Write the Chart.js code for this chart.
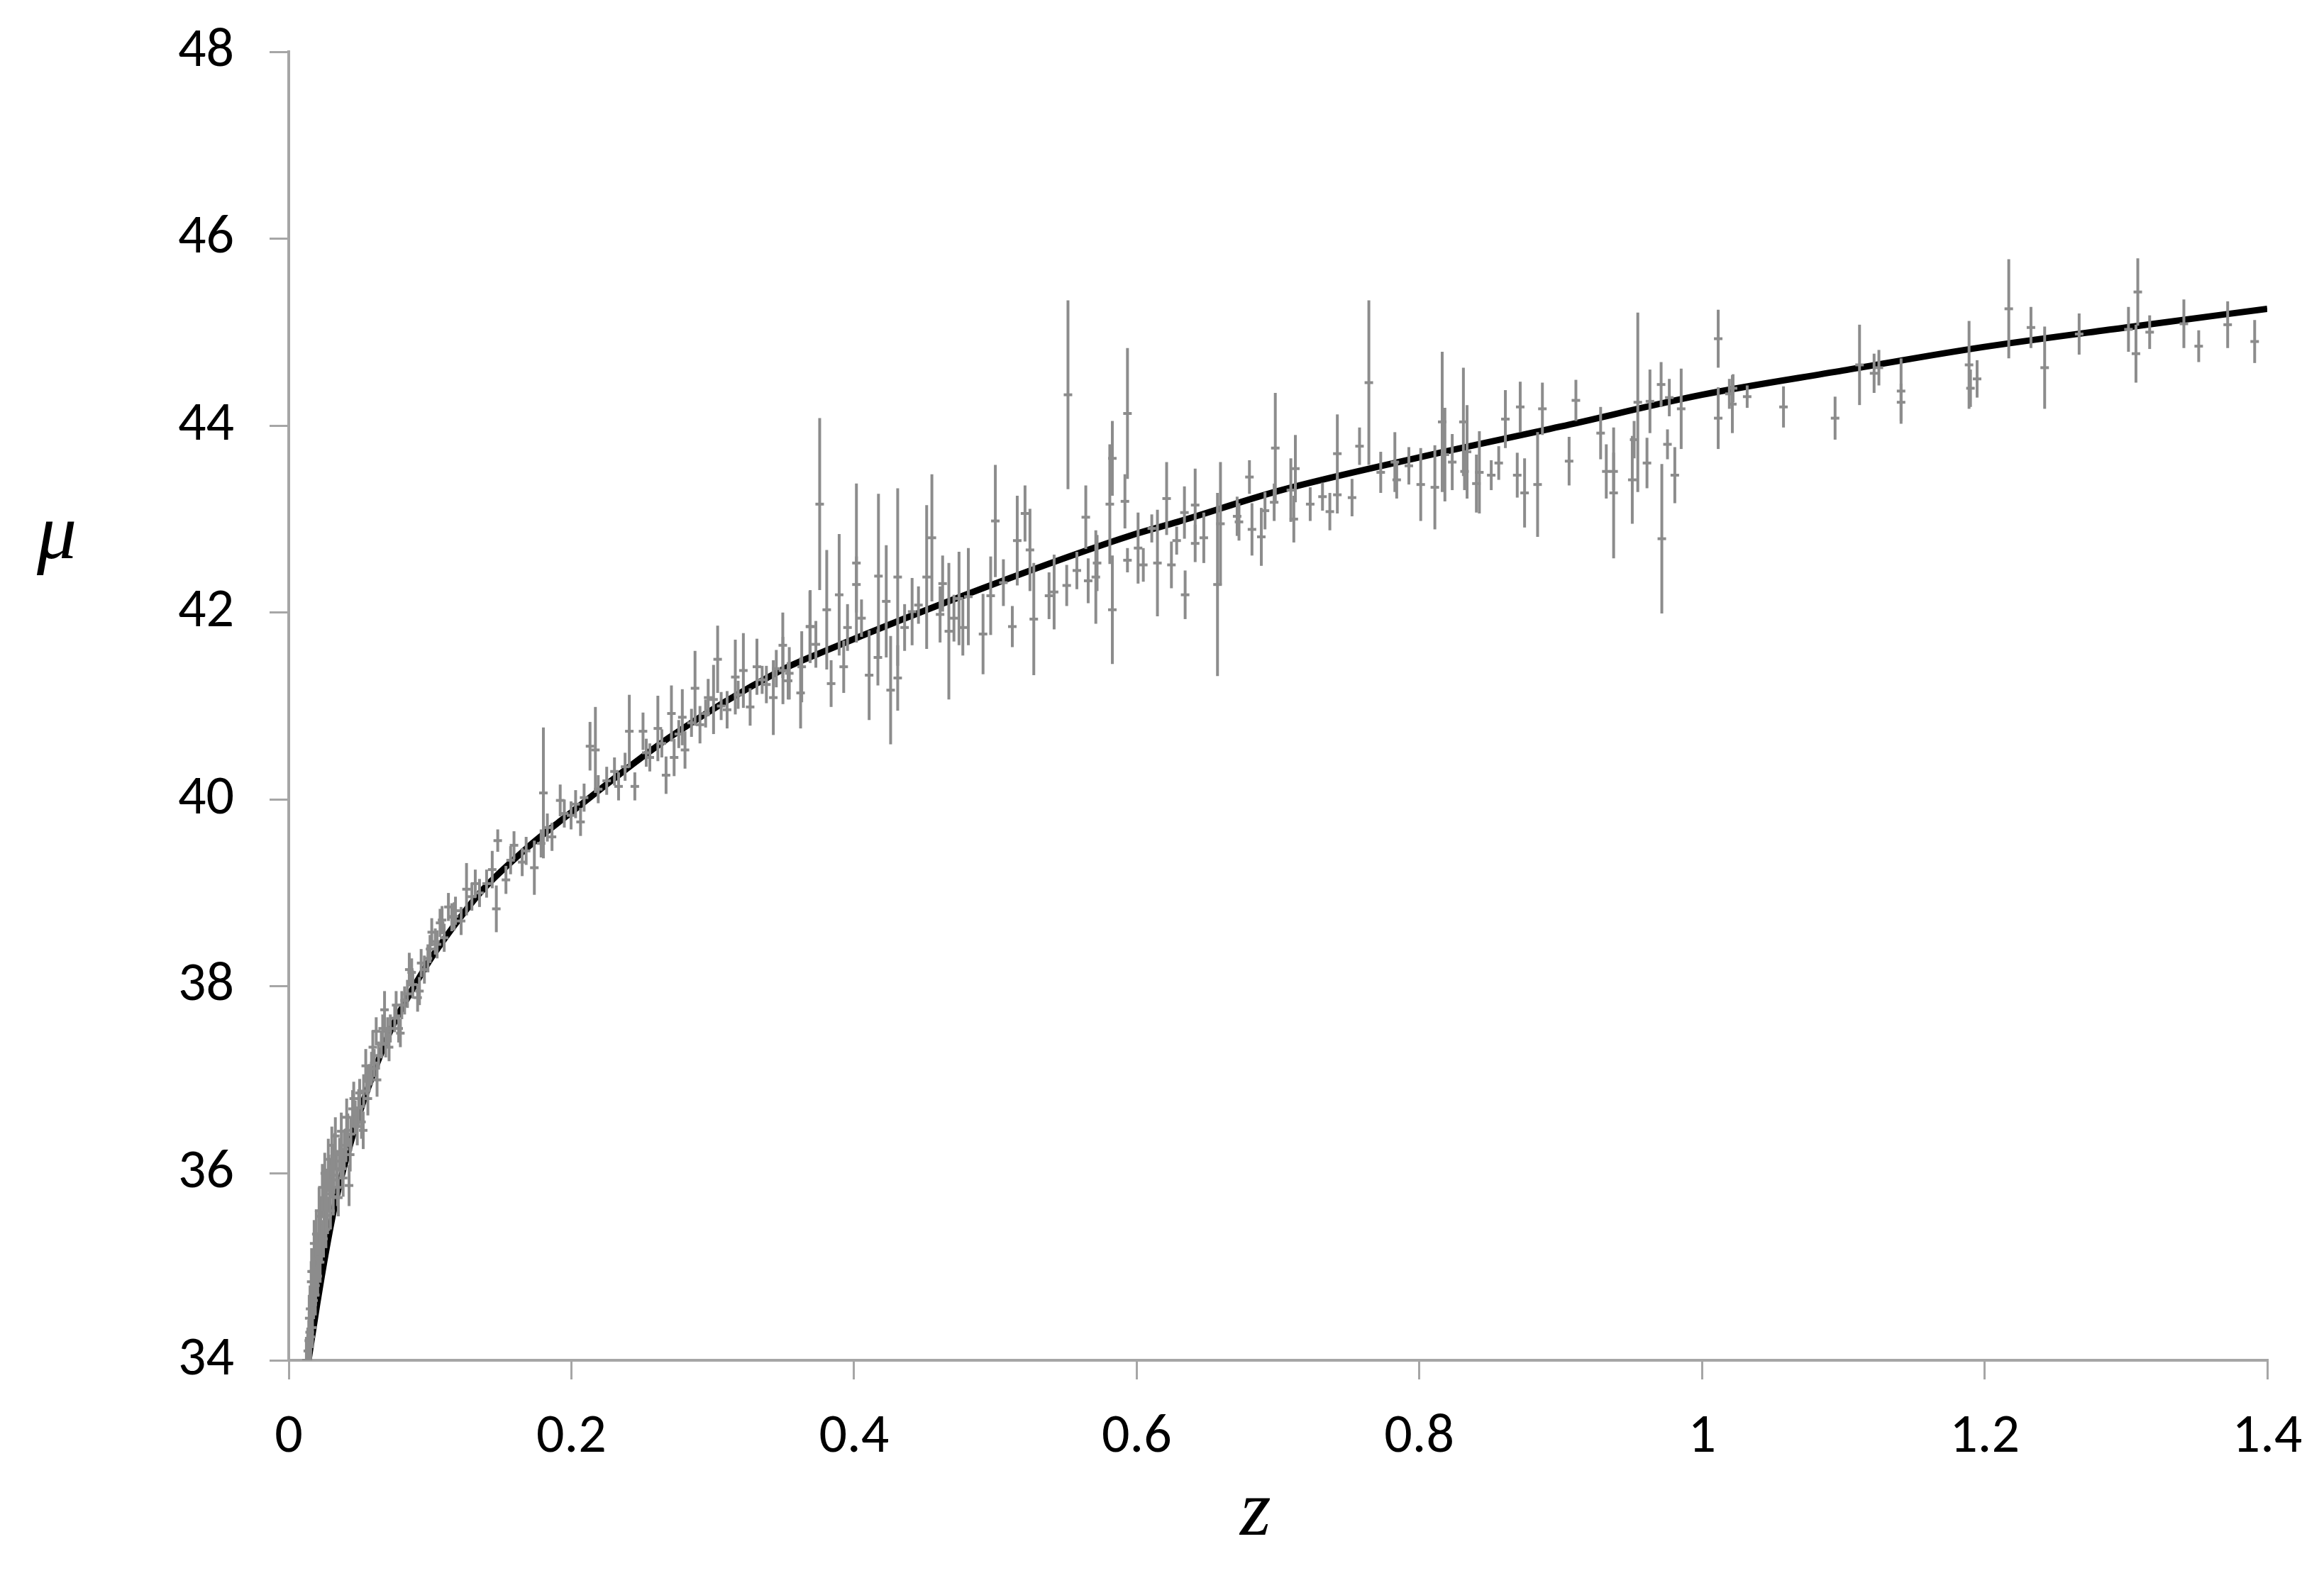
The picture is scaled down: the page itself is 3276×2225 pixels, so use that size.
<!DOCTYPE html>
<html>
<head>
<meta charset="utf-8">
<title>Hubble diagram</title>
<script src="https://cdn.jsdelivr.net/npm/chart.js@4.4.1/dist/chart.umd.min.js"></script>
<style>
  html, body { margin: 0; padding: 0; background: #fff; }
  #wrap { width: 3276px; height: 2225px; position: relative; }
</style>
</head>
<body>
<div id="wrap"><canvas id="hubble"></canvas></div>
<script>
//axis ranges and tick steps
const zTicks = [0, 0.2, 0.4, 0.6, 0.8, 1, 1.2, 1.4];
const muTicks = [34, 36, 38, 40, 42, 44, 46, 48];

//fitted model curve
const curveZ  = [0.0140, 0.0201, 0.0268, 0.0335, 0.0393, 0.0502, 0.0619, 0.0736, 0.0887, 0.102, 0.1205, 0.137, 0.170, 0.193, 0.269, 0.348, 0.378, 0.491, 0.599, 0.629, 0.70, 0.80, 0.90, 1.00, 1.10, 1.19, 1.30, 1.40];
const curveMu = [34.0, 34.6, 35.2, 35.72, 36.08, 36.65, 37.15, 37.58, 38.0, 38.33, 38.72, 39.03, 39.5, 39.78, 40.66, 41.38, 41.58, 42.26, 42.84, 42.97, 43.30, 43.66, 43.99, 44.33, 44.59, 44.82, 45.05, 45.25];

//supernovae: redshift, distance modulus, error
const snZ = [
  0.0125, 0.0142, 0.0151, 0.0159, 0.0176, 0.0184, 0.0201, 0.0217, 0.0226, 0.0243, 0.0259, 0.0268, 0.0284, 0.0301, 0.0310, 0.0326, 0.0351, 0.0368, 0.0393, 0.0427, 0.0418, 0.0452, 0.0485, 0.0502, 0.0527, 0.0552, 0.0586, 0.0619, 0.0636, 0.0678, 0.0686, 0.0719, 0.0778, 0.0820, 0.0853, 0.0878, 0.0912, 0.0937, 0.1012, 0.1071, 0.1154, 0.1180,
  0.0135, 0.0148, 0.0165, 0.0170, 0.0190, 0.0210, 0.0232, 0.0250, 0.0275, 0.0290, 0.0320, 0.0340, 0.0360, 0.0380, 0.0405, 0.0440, 0.0470, 0.0530, 0.0570, 0.0605, 0.0655, 0.0700, 0.0750, 0.0800, 0.0840, 0.0960, 0.0985, 0.1050, 0.1100,
  0.0145, 0.0155, 0.0162, 0.0168, 0.0180, 0.0188, 0.0195, 0.0205, 0.0215, 0.0222, 0.0238, 0.0246, 0.0255, 0.0263, 0.0280, 0.0295, 0.0305, 0.0315, 0.0330, 0.0345, 0.0372, 0.0385, 0.0410, 0.0435, 0.0460, 0.0495, 0.0515, 0.0545, 0.0560, 0.0595, 0.0625, 0.0665, 0.0710, 0.0760, 0.0790, 0.0870, 0.0925, 0.1000, 0.1130, 0.1220, 0.1320,
  0.1037, 0.1085, 0.1171, 0.1258, 0.1296, 0.1440, 0.1469, 0.1479, 0.1537, 0.1594, 0.1652, 0.1738, 0.1786, 0.1802, 0.1863, 0.1921, 0.1998, 0.2065, 0.2132, 0.2170, 0.2190, 0.2305, 0.2334, 0.2410, 0.2449, 0.2507, 0.2555, 0.2612, 0.2670, 0.2708, 0.2727, 0.2785, 0.2804, 0.2875, 0.2910, 0.2968, 0.3006, 0.3035, 0.3102, 0.3160, 0.3217, 0.3265, 0.3313, 0.3380, 0.3429, 0.3496, 0.3534, 0.3630, 0.3688,
  0.135, 0.140, 0.157, 0.168, 0.183, 0.195, 0.203, 0.209, 0.225, 0.238, 0.253, 0.264, 0.276, 0.285, 0.295, 0.306, 0.318, 0.335, 0.345,
  0.3497, 0.3542, 0.3622, 0.3690, 0.3730, 0.3757, 0.3807, 0.3838, 0.3895, 0.3927, 0.3954, 0.4017, 0.4017, 0.4053, 0.4107, 0.4169, 0.4173, 0.4228, 0.4259, 0.4309, 0.4309, 0.4358, 0.4411, 0.4456, 0.4514, 0.4551, 0.4609, 0.4627, 0.4671, 0.4707, 0.4743, 0.4770, 0.4809, 0.4913, 0.4967, 0.5000, 0.5057, 0.5120, 0.5155, 0.5210, 0.5245, 0.5272, 0.5380, 0.5416, 0.5505, 0.5514, 0.5577, 0.5640, 0.5657, 0.5711, 0.5720, 0.5810, 0.5828, 0.5828, 0.5917, 0.5935, 0.5935,
  0.6010, 0.6047, 0.6107, 0.6147, 0.6212, 0.6246, 0.6283, 0.6343, 0.6338, 0.6414, 0.6414, 0.6475, 0.6572, 0.6593, 0.6711, 0.6724, 0.6798, 0.6816, 0.6882, 0.6908, 0.6981, 0.6973, 0.7091, 0.7123, 0.7112, 0.7228, 0.7315, 0.7367, 0.7420, 0.7420, 0.7524, 0.7577, 0.7643, 0.7727, 0.7827, 0.7840, 0.7926, 0.8010, 0.8110, 0.8162, 0.8181, 0.8233, 0.8312, 0.8338, 0.8320, 0.8404, 0.8425, 0.8509, 0.8562, 0.8609, 0.8693, 0.8714, 0.8745, 0.8837, 0.8871, 0.9060, 0.9108, 0.9283, 0.9323, 0.9375, 0.9375, 0.9507, 0.9520, 0.9546, 0.9611, 0.9632, 0.9716, 0.9711, 0.9756, 0.9769, 0.9808, 0.9853,
  1.0115, 1.0115, 1.0194, 1.0215, 1.0220, 1.0320, 1.0577, 1.0942, 1.1115, 1.1218, 1.1252, 1.1409, 1.1409, 1.1890, 1.1900, 1.1947, 1.2171, 1.2328, 1.2425, 1.2669, 1.3018, 1.3071, 1.3084, 1.3168, 1.3410, 1.3515, 1.3720, 1.3911
];
const snMu = [
  34.00, 34.21, 34.55, 34.84, 34.64, 35.04, 35.17, 35.34, 35.54, 35.74, 35.64, 35.83, 36.00, 35.93, 36.13, 36.23, 35.74, 36.13, 36.26, 35.87, 36.46, 36.69, 36.50, 36.86, 36.46, 36.99, 37.12, 37.52, 37.26, 37.75, 37.39, 37.55, 37.55, 37.85, 38.18, 38.02, 37.88, 38.25, 38.58, 38.68, 38.74, 38.81,
  34.10, 34.30, 34.50, 34.95, 34.80, 35.05, 35.25, 35.45, 35.55, 35.78, 35.98, 36.05, 36.20, 36.05, 36.30, 36.42, 36.60, 36.88, 37.02, 37.18, 37.38, 37.52, 37.66, 37.80, 37.92, 38.18, 38.30, 38.45, 38.52,
  34.45, 34.25, 34.95, 34.35, 35.25, 34.70, 35.35, 34.90, 35.60, 35.05, 35.85, 35.30, 36.00, 35.40, 36.15, 35.60, 36.30, 35.75, 36.40, 35.85, 36.45, 35.95, 36.60, 36.20, 36.80, 36.70, 36.55, 37.15, 36.80, 37.35, 37.00, 37.55, 37.35, 37.80, 37.50, 38.15, 37.95, 38.40, 38.85, 38.70, 39.10,
  38.48, 38.71, 38.75, 39.04, 38.96, 39.25, 38.83, 39.56, 39.14, 39.51, 39.33, 39.27, 39.53, 40.07, 39.60, 39.99, 39.83, 39.76, 40.57, 40.53, 40.11, 40.30, 40.14, 40.73, 40.14, 40.73, 40.45, 40.76, 40.26, 40.92, 40.45, 40.88, 40.53, 41.19, 40.80, 41.09, 41.07, 41.50, 40.96, 41.31, 41.38, 40.99, 41.42, 41.23, 41.09, 41.65, 41.27, 41.42, 41.85,
  39.00, 39.10, 39.35, 39.45, 39.70, 39.85, 39.95, 40.02, 40.20, 40.35, 40.50, 40.60, 40.70, 40.82, 40.92, 41.00, 41.12, 41.28, 41.40,
  41.38, 41.35, 41.14, 41.85, 41.66, 43.16, 42.03, 41.24, 42.19, 41.42, 41.84, 42.53, 42.30, 41.94, 41.33, 41.52, 42.39, 42.12, 41.17, 42.38, 41.30, 41.84, 42.01, 42.08, 42.38, 42.80, 41.98, 42.31, 41.80, 41.94, 42.15, 41.84, 42.17, 41.77, 42.18, 42.98, 42.32, 41.85, 42.77, 43.06, 42.67, 41.93, 42.18, 42.22, 42.29, 44.33, 42.45, 43.02, 42.34, 42.38, 42.53, 43.16, 42.03, 43.65, 43.19, 44.13, 42.56,
  42.69, 42.51, 42.90, 42.53, 43.22, 42.51, 42.77, 42.19, 43.07, 43.15, 42.74, 42.80, 42.30, 42.95, 43.03, 42.97, 43.45, 42.89, 42.81, 43.09, 43.76, 43.18, 43.31, 43.54, 43.00, 43.16, 43.24, 43.08, 43.70, 43.26, 43.23, 43.78, 44.46, 43.50, 43.61, 43.42, 43.57, 43.37, 43.34, 44.04, 43.69, 43.61, 44.04, 43.72, 43.51, 43.38, 43.50, 43.47, 43.60, 44.07, 43.47, 44.20, 43.28, 43.37, 44.18, 43.62, 44.27, 43.92, 43.51, 43.28, 43.51, 43.42, 43.85, 44.25, 43.60, 44.26, 42.79, 44.44, 43.80, 44.30, 43.47, 44.18,
  44.93, 44.08, 44.34, 44.23, 44.40, 44.31, 44.20, 44.08, 44.65, 44.56, 44.62, 44.37, 44.25, 44.65, 44.40, 44.50, 45.25, 45.05, 44.62, 44.98, 45.03, 44.77, 45.43, 45.00, 45.09, 44.85, 45.08, 44.90
];
const snErr = [
  0.25, 0.22, 0.25, 0.22, 0.20, 0.22, 0.20, 0.25, 0.20, 0.22, 0.20, 0.22, 0.20, 0.20, 0.18, 0.20, 0.20, 0.18, 0.20, 0.22, 0.18, 0.20, 0.20, 0.15, 0.20, 0.15, 0.18, 0.15, 0.15, 0.20, 0.15, 0.15, 0.15, 0.15, 0.18, 0.15, 0.15, 0.15, 0.15, 0.15, 0.15, 0.15,
  0.25, 0.25, 0.25, 0.22, 0.22, 0.20, 0.20, 0.20, 0.20, 0.20, 0.20, 0.20, 0.18, 0.20, 0.18, 0.18, 0.18, 0.18, 0.15, 0.15, 0.15, 0.15, 0.15, 0.15, 0.15, 0.15, 0.15, 0.15, 0.15,
  0.25, 0.25, 0.25, 0.22, 0.25, 0.22, 0.25, 0.22, 0.25, 0.22, 0.25, 0.20, 0.22, 0.20, 0.22, 0.20, 0.20, 0.20, 0.20, 0.20, 0.20, 0.20, 0.20, 0.18, 0.18, 0.20, 0.18, 0.18, 0.18, 0.18, 0.18, 0.15, 0.15, 0.15, 0.15, 0.15, 0.15, 0.15, 0.15, 0.15, 0.15,
  0.14, 0.15, 0.15, 0.28, 0.15, 0.20, 0.25, 0.12, 0.15, 0.15, 0.15, 0.29, 0.15, 0.70, 0.15, 0.17, 0.15, 0.15, 0.26, 0.46, 0.15, 0.15, 0.15, 0.39, 0.15, 0.20, 0.15, 0.35, 0.20, 0.30, 0.20, 0.30, 0.20, 0.40, 0.20, 0.20, 0.37, 0.36, 0.20, 0.40, 0.40, 0.20, 0.30, 0.20, 0.40, 0.35, 0.20, 0.38, 0.38,
  0.15, 0.15, 0.15, 0.15, 0.15, 0.15, 0.15, 0.15, 0.15, 0.15, 0.15, 0.15, 0.15, 0.15, 0.15, 0.15, 0.15, 0.15, 0.20,
  0.36, 0.28, 0.38, 0.39, 0.25, 0.92, 0.64, 0.25, 0.65, 0.28, 0.25, 0.85, 0.30, 0.20, 0.48, 0.30, 0.88, 0.60, 0.58, 0.95, 0.35, 0.25, 0.36, 0.20, 0.77, 0.68, 0.30, 0.30, 0.73, 0.25, 0.50, 0.30, 0.52, 0.43, 0.42, 0.60, 0.25, 0.22, 0.48, 0.30, 0.44, 0.60, 0.25, 0.40, 0.22, 1.01, 0.20, 0.34, 0.24, 0.50, 0.30, 0.64, 0.58, 0.40, 0.29, 0.70, 0.13,
  0.38, 0.18, 0.15, 0.57, 0.39, 0.25, 0.15, 0.26, 0.28, 0.39, 0.20, 0.27, 0.98, 0.66, 0.21, 0.20, 0.18, 0.28, 0.31, 0.20, 0.59, 0.20, 0.34, 0.36, 0.25, 0.18, 0.15, 0.20, 0.42, 0.20, 0.20, 0.20, 0.88, 0.22, 0.32, 0.20, 0.20, 0.39, 0.45, 0.75, 0.50, 0.30, 0.58, 0.50, 0.20, 0.31, 0.44, 0.16, 0.18, 0.31, 0.24, 0.27, 0.37, 0.56, 0.28, 0.26, 0.22, 0.28, 0.29, 0.70, 0.20, 0.47, 0.20, 0.96, 0.27, 0.34, 0.80, 0.24, 0.16, 0.20, 0.30, 0.43,
  0.31, 0.33, 0.16, 0.31, 0.15, 0.12, 0.22, 0.23, 0.43, 0.21, 0.19, 0.35, 0.20, 0.47, 0.20, 0.20, 0.53, 0.22, 0.44, 0.22, 0.24, 0.31, 0.36, 0.18, 0.26, 0.17, 0.25, 0.23
];

const barColour = '#8c8c8c';
const axisColour = '#a6a6a6';
const tickFont = { family: 'Carlito, Lato, "Liberation Sans", sans-serif', size: 78 };

//vertical error bars, drawn over the curve like in the original
const errorBars = {
    id: 'errorBars',
    afterDatasetsDraw(chart) {
        const ctx = chart.ctx;
        const area = chart.chartArea;
        const xs = chart.scales.x;
        const ys = chart.scales.y;
        ctx.save();
        ctx.beginPath();
        ctx.rect(area.left, area.top, area.right - area.left, area.bottom - area.top);
        ctx.clip();
        ctx.strokeStyle = barColour;
        ctx.lineWidth = 4;
        for (let i = 0; i < snZ.length; i++) {
            const px = xs.getPixelForValue(snZ[i]);
            ctx.beginPath();
            ctx.moveTo(px, ys.getPixelForValue(snMu[i] + snErr[i]));
            ctx.lineTo(px, ys.getPixelForValue(snMu[i] - snErr[i]));
            ctx.stroke();
        }
        ctx.restore();
    }
};

//axis symbols in italic serif
const axisSymbols = {
    id: 'axisSymbols',
    afterDraw(chart) {
        const ctx = chart.ctx;
        ctx.save();
        ctx.fillStyle = '#000';
        ctx.font = 'italic 112px "Liberation Serif", "DejaVu Serif", serif';
        ctx.textBaseline = 'alphabetic';
        ctx.textAlign = 'left';
        ctx.fillText('\u03bc', 52, 787);
        ctx.fillText('z', 1748, 2164);
        ctx.restore();
    }
};

const points = snZ.map((z, i) => ({ x: z, y: snMu[i] }));
const curve = curveZ.map((z, i) => ({ x: z, y: curveMu[i] }));

new Chart(document.getElementById('hubble'), {
    type: 'scatter',
    data: {
        datasets: [{
            type: 'line',
            label: 'model',
            data: curve,
            borderColor: '#000',
            borderWidth: 9,
            pointRadius: 0,
            fill: false,
            cubicInterpolationMode: 'monotone',
            order: 2
        }, {
            type: 'scatter',
            label: 'SNe Ia',
            data: points,
            pointStyle: 'line',
            pointRadius: 6,
            borderWidth: 4,
            borderColor: barColour,
            backgroundColor: barColour,
            order: 1
        }]
    },
    options: {
        responsive: true,
        maintainAspectRatio: false,
        devicePixelRatio: 1,
        animation: false,
        events: [],
        layout: { padding: { left: 0, right: 80, top: 73, bottom: 0 } },
        plugins: {
            legend: { display: false },
            tooltip: { enabled: false }
        },
        scales: {
            x: {
                type: 'linear',
                min: zTicks[0],
                max: zTicks[zTicks.length - 1],
                afterBuildTicks: (s) => { s.ticks = zTicks.map(v => ({ value: v })); },
                afterFit: (s) => { s.height = 307; s.paddingLeft = 0; s.paddingRight = 0; },
                ticks: {
                    font: tickFont,
                    color: '#000',
                    padding: 36,
                    maxRotation: 0,
                    callback: (v) => String(Math.round(v * 10) / 10)
                },
                grid: { drawOnChartArea: false, drawTicks: true, tickLength: 27, color: axisColour, lineWidth: 3 },
                border: { display: true, color: axisColour, width: 4 }
            },
            y: {
                type: 'linear',
                min: muTicks[0],
                max: muTicks[muTicks.length - 1],
                afterBuildTicks: (s) => { s.ticks = muTicks.map(v => ({ value: v })); },
                afterFit: (s) => { s.width = 407; s.paddingTop = 0; s.paddingBottom = 0; },
                ticks: {
                    font: tickFont,
                    color: '#000',
                    padding: 50
                },
                grid: { drawOnChartArea: false, drawTicks: true, tickLength: 27, color: axisColour, lineWidth: 3 },
                border: { display: true, color: axisColour, width: 4 }
            }
        }
    },
    plugins: [errorBars, axisSymbols]
});
</script>
</body>
</html>
